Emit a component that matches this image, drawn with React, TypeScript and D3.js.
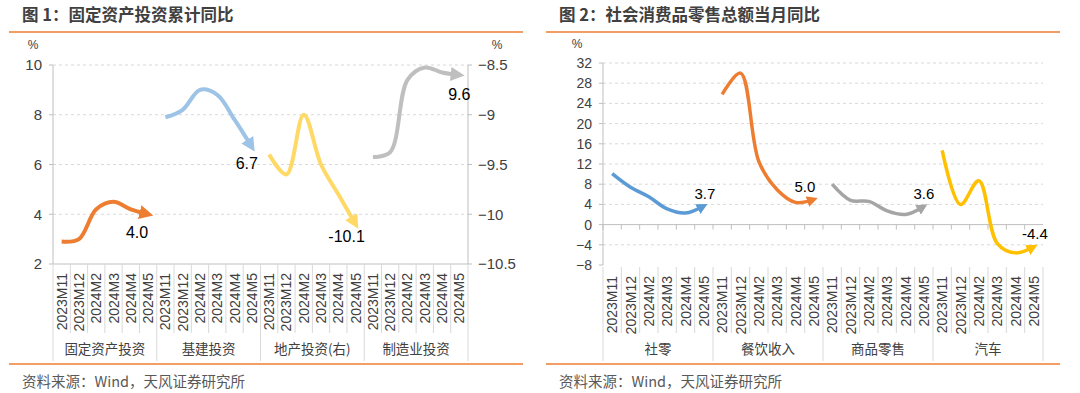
import React from 'react';
import * as d3 from 'd3';

// 月份和分组
const months = ['2023M11', '2023M12', '2024M2', '2024M3', '2024M4', '2024M5'];
const invGroups = ['固定资产投资', '基建投资', '地产投资(右)', '制造业投资'];
const retailGroups = ['社零', '餐饮收入', '商品零售', '汽车'];

// 图1 数据
const fixedAsset = [2.9, 3.0, 4.2, 4.5, 4.2, 4.0];
const infra = [7.9, 8.2, 9.0, 8.8, 7.8, 6.7];
const realEstate = [-9.4, -9.6, -9.0, -9.5, -9.8, -10.1];
const manufacturing = [6.3, 6.5, 9.4, 9.9, 9.7, 9.6];
const invLeftTicks = [2, 4, 6, 8, 10];
const invRightTicks = [-10.5, -10, -9.5, -9, -8.5];

// 图2 数据
const retailTotal = [10.1, 7.4, 5.5, 3.1, 2.3, 3.7];
const catering = [25.8, 30.0, 12.5, 6.9, 4.4, 5.0];
const goods = [8.0, 4.8, 4.6, 2.7, 2.0, 3.6];
const autos = [14.7, 4.0, 8.7, -3.7, -5.6, -4.4];
const retailTicks = [-8, -4, 0, 4, 8, 12, 16, 20, 24, 28, 32];

const FONT = '"Liberation Sans", Arial, "Noto Sans CJK SC", sans-serif';
const CJK = '"Noto Sans CJK SC", "Liberation Sans", sans-serif';
const ORANGE_RULE = '#ED7D31';
const TEXT = '#404040';
const GRID = '#D9D9D9';
const AXIS = '#BFBFBF';

const minus = (v: number) => (v < 0 ? '\u2212' + Math.abs(v) : String(v));

type Series = {
  id: string;
  values: number[];
  color: string;
  right?: boolean;
  label: string;
  dx: number;
  dy: number;
};

type PanelProps = {
  ox: number;
  title: string;
  x0: number;
  x1: number;
  yTop: number;
  yBottom: number;
  domain: [number, number];
  ticks: number[];
  tickFmt: (v: number) => string;
  tickSize: number;
  rightDomain?: [number, number];
  rightTicks?: number[];
  zero?: boolean;
  groups: string[];
  series: Series[];
  lineWidth: number;
  arrow: number;
  labelSize: number;
  leftPct: [number, number];
  rightPct?: [number, number];
};

const Panel = (p: PanelProps) => {
  const cats = p.groups.flatMap((g, gi) => months.map((m, mi) => `${gi}-${mi}`));
  const x = d3.scaleBand<string>().domain(cats).range([p.x0, p.x1]).padding(0);
  const y = d3.scaleLinear().domain(p.domain).range([p.yBottom, p.yTop]);
  const yR = p.rightDomain ? d3.scaleLinear().domain(p.rightDomain).range([p.yBottom, p.yTop]) : null;
  const bw = x.bandwidth();
  const baseY = p.zero ? y(0) : p.yBottom;
  const sepTop = p.zero ? p.yBottom + 2 : p.yBottom;

  const line = (s: Series, gi: number) => {
    const sc = s.right && yR ? yR : y;
    return d3
      .line<number>()
      .x((d, i) => (x(`${gi}-${i}`) as number) + bw / 2)
      .y((d) => sc(d))
      .curve(d3.curveCatmullRom.alpha(0.5))(s.values) as string;
  };

  return (
    <g>
      <text x={p.ox + 22} y={21} fontFamily={CJK} fontWeight="bold" fontSize={16.5} fill={TEXT}>
        {p.title}
      </text>
      <line x1={p.ox + 9} x2={p.ox + 523} y1={32} y2={32} stroke={ORANGE_RULE} strokeWidth={1.5} />

      <defs>
        {p.series.map((s) => (
          <marker
            key={s.id}
            id={s.id}
            markerUnits="userSpaceOnUse"
            markerWidth={p.arrow}
            markerHeight={p.arrow}
            refX={p.arrow * 0.62}
            refY={p.arrow / 2}
            orient="auto"
          >
            <path d={`M0,0 L${p.arrow},${p.arrow / 2} L0,${p.arrow} z`} fill={s.color} />
          </marker>
        ))}
      </defs>

      {/* gridlines */}
      {p.ticks.map((t) =>
        t === p.domain[0] || (p.zero && t === 0) ? null : (
          <line key={'g' + t} x1={p.x0} x2={p.x1} y1={y(t)} y2={y(t)} stroke={GRID} strokeDasharray="3,3" />
        )
      )}

      {/* left axis */}
      <line x1={p.x0} x2={p.x0} y1={p.yTop} y2={p.yBottom} stroke={AXIS} />
      {p.ticks.map((t) => (
        <g key={'t' + t}>
          <line x1={p.x0 - 4} x2={p.x0} y1={y(t)} y2={y(t)} stroke={AXIS} />
          <text x={p.x0 - 11} y={y(t)} dy="0.35em" textAnchor="end" fontFamily={FONT} fontSize={p.tickSize} fill={TEXT}>
            {p.tickFmt(t)}
          </text>
        </g>
      ))}
      <text x={p.leftPct[0]} y={p.leftPct[1]} textAnchor="middle" fontFamily={FONT} fontSize={12} fill={TEXT}>
        %
      </text>

      {/* right axis */}
      {yR && p.rightTicks && (
        <g>
          <line x1={p.x1} x2={p.x1} y1={p.yTop} y2={p.yBottom} stroke={AXIS} />
          {p.rightTicks.map((t) => (
            <g key={'r' + t}>
              <line x1={p.x1} x2={p.x1 + 4} y1={yR(t)} y2={yR(t)} stroke={AXIS} />
              <text x={p.x1 + 10} y={yR(t)} dy="0.35em" fontFamily={FONT} fontSize={p.tickSize} fill={TEXT}>
                {minus(t)}
              </text>
            </g>
          ))}
          {p.rightPct && (
            <text x={p.rightPct[0]} y={p.rightPct[1]} textAnchor="middle" fontFamily={FONT} fontSize={12} fill={TEXT}>
              %
            </text>
          )}
        </g>
      )}

      {/* category axis */}
      <line x1={p.x0} x2={p.x1} y1={baseY} y2={baseY} stroke={AXIS} />
      {p.zero &&
        cats.map((c) => (
          <line key={'z' + c} x1={x(c)} x2={x(c)} y1={baseY} y2={baseY + 5} stroke={AXIS} />
        ))}
      {d3.range(cats.length + 1).map((i) => {
        const xx = p.x0 + i * bw;
        const grp = i % months.length === 0;
        return (
          <line key={'s' + i} x1={xx} x2={xx} y1={sepTop} y2={grp ? 361 : 333} stroke={GRID} />
        );
      })}
      {cats.map((c, i) => (
        <text
          key={'c' + c}
          transform={`translate(${(x(c) as number) + bw / 2},${sepTop + 9}) rotate(-90)`}
          textAnchor="end"
          dominantBaseline="central"
          fontFamily={FONT}
          fontSize={14}
          fill={TEXT}
        >
          {months[i % months.length]}
        </text>
      ))}
      {p.groups.map((g, gi) => (
        <text
          key={'gl' + g}
          x={p.x0 + (gi + 0.5) * bw * months.length}
          y={349}
          dy="0.35em"
          textAnchor="middle"
          fontFamily={CJK}
          fontSize={13.5}
          fill={TEXT}
        >
          {g}
        </text>
      ))}

      {/* series */}
      {p.series.map((s, gi) => {
        const sc = s.right && yR ? yR : y;
        const last = s.values.length - 1;
        const lx = (x(`${gi}-${last}`) as number) + bw / 2;
        const ly = sc(s.values[last]);
        return (
          <g key={s.id}>
            <path
              d={line(s, gi)}
              fill="none"
              stroke={s.color}
              strokeWidth={p.lineWidth}
              strokeLinejoin="round"
              markerEnd={`url(#${s.id})`}
            />
            <text x={lx + s.dx} y={ly + s.dy} dy="0.35em" textAnchor="middle" fontFamily={FONT} fontSize={p.labelSize} fill="#000">
              {s.label}
            </text>
          </g>
        );
      })}

      <line x1={p.ox + 9} x2={p.ox + 523} y1={364} y2={364} stroke={ORANGE_RULE} strokeWidth={1.5} />
      <text x={p.ox + 22} y={382} dy="0.35em" fontFamily={CJK} fontSize={14.5} fill="#595959">
        资料来源：Wind，天风证券研究所
      </text>
    </g>
  );
};

const App = () => {
  const invSeries: Series[] = [
    { id: 'a1', values: fixedAsset, color: '#ED7D31', label: '4.0', dx: -11, dy: 18 },
    { id: 'a2', values: infra, color: '#9DC3E6', label: '6.7', dx: -5, dy: 16 },
    { id: 'a3', values: realEstate, color: '#FFD966', right: true, label: '-10.1', dx: -9, dy: 12 },
    { id: 'a4', values: manufacturing, color: '#BFBFBF', label: '9.6', dx: 0, dy: 19 },
  ];
  const retailSeries: Series[] = [
    { id: 'b1', values: retailTotal, color: '#5B9BD5', label: '3.7', dx: 1, dy: -12 },
    { id: 'b2', values: catering, color: '#ED7D31', label: '5.0', dx: -9, dy: -13 },
    { id: 'b3', values: goods, color: '#A5A5A5', label: '3.6', dx: 0, dy: -13 },
    { id: 'b4', values: autos, color: '#FFC000', label: '-4.4', dx: 1, dy: -13 },
  ];

  return (
    <svg width={1080} height={393} style={{ position: 'absolute', left: 0, top: 0, background: '#fff' }}>
      <Panel
        ox={0}
        title="图 1：固定资产投资累计同比"
        x0={53}
        x1={468}
        yTop={65}
        yBottom={264}
        domain={[2, 10]}
        ticks={invLeftTicks}
        tickFmt={(v) => String(v)}
        tickSize={15}
        rightDomain={[-10.5, -8.5]}
        rightTicks={invRightTicks}
        groups={invGroups}
        series={invSeries}
        lineWidth={4}
        arrow={14}
        labelSize={16}
        leftPct={[33, 49]}
        rightPct={[497, 49]}
      />
      <Panel
        ox={537}
        title="图 2：社会消费品零售总额当月同比"
        x0={603}
        x1={1043}
        yTop={63}
        yBottom={265}
        domain={[-8, 32]}
        ticks={retailTicks}
        tickFmt={minus}
        tickSize={14}
        zero
        groups={retailGroups}
        series={retailSeries}
        lineWidth={3.5}
        arrow={11}
        labelSize={15}
        leftPct={[577, 48]}
      />
    </svg>
  );
};

export default App;
